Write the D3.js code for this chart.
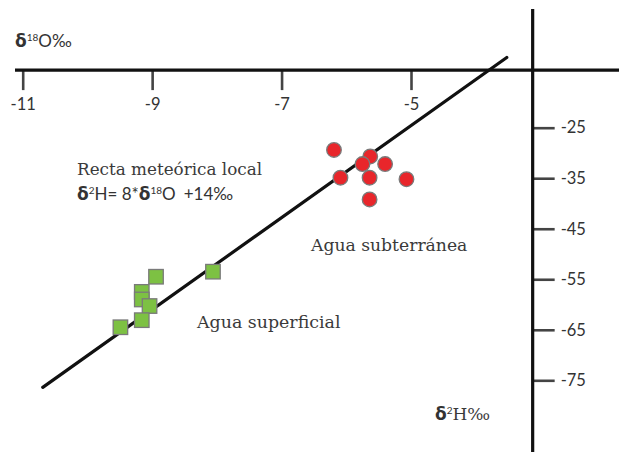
<!DOCTYPE html>
<html>
<head>
<meta charset="utf-8">
<script src="https://cdn.jsdelivr.net/npm/d3@7"></script>
<style>
  body { margin: 0; background: #fff; }
  svg { display: block; }
  .sans { font-family: Lato, "Noto Sans", sans-serif; fill: #333; }
  .serif { font-family: "DejaVu Serif", serif; fill: #3a3a3a; }
</style>
</head>
<body>
<svg id="chart" width="619" height="452"></svg>
<script>
// δ18O / δ2H values
var subterraneaO = [-6.19, -5.63, -5.75, -5.40, -6.09, -5.64, -5.07, -5.64];
var subterraneaH = [-29.4, -30.7, -32.2, -32.2, -34.9, -34.9, -35.2, -39.2];
var superficialO = [-8.06, -8.94, -9.16, -9.16, -9.04, -9.16, -9.49];
var superficialH = [-53.5, -54.5, -57.5, -59.0, -60.3, -63.1, -64.5];
// recta meteórica local (extremos del trazo)
var rectaO = [-10.69, -3.52];
var rectaH = [-76.4, -11.1];
var xTicks = [-11, -9, -7, -5];
var yTicks = [-25, -35, -45, -55, -65, -75];
// posición de los ejes (se cruzan fuera del origen, como en el esquema)
var xAxisAtH = -13.6;
var yAxisAtO = -3.12;

var svg = d3.select("#chart");

// escalas
var x = d3.scaleLinear().domain([-11, -5]).range([22.7, 411]);
var y = d3.scaleLinear().domain([-25, -75]).range([127.7, 380.3]);

// etiquetas con guion simple, como en el original
var fmt = (d) => "-" + Math.abs(d);

// eje horizontal (δ18O)
var xAxisY = y(xAxisAtH);
var gx = svg.append("g")
  .attr("transform", `translate(0,${xAxisY})`)
  .call(d3.axisBottom(x).tickValues(xTicks).tickSize(20).tickPadding(8).tickFormat(fmt));
gx.select(".domain").remove();
gx.selectAll(".tick line").attr("stroke", "#444").attr("stroke-width", 2.6);
gx.selectAll(".tick text").attr("class", "sans").style("font-size", "16.5px").attr("fill", "#333");
svg.append("line")
  .attr("x1", 15).attr("x2", 619)
  .attr("y1", xAxisY).attr("y2", xAxisY)
  .attr("stroke", "#111").attr("stroke-width", 3.2);

// eje vertical (δ2H)
var yAxisX = x(yAxisAtO);
var gy = svg.append("g")
  .attr("transform", `translate(${yAxisX},0)`)
  .call(d3.axisRight(y).tickValues(yTicks).tickSize(22).tickPadding(6).tickFormat(fmt));
gy.select(".domain").remove();
gy.selectAll(".tick line").attr("stroke", "#444").attr("stroke-width", 2.6);
gy.selectAll(".tick text").attr("class", "sans").style("font-size", "16.5px").attr("fill", "#333");
svg.append("line")
  .attr("x1", yAxisX).attr("x2", yAxisX)
  .attr("y1", 9).attr("y2", 452)
  .attr("stroke", "#111").attr("stroke-width", 3.2);

// recta meteórica
var recta = rectaO.map((o, i) => [o, rectaH[i]]);
svg.append("path")
  .datum(recta)
  .attr("fill", "none")
  .attr("stroke", "#111")
  .attr("stroke-width", 3.2)
  .attr("stroke-linecap", "round")
  .attr("d", d3.line().x((d) => x(d[0])).y((d) => y(d[1])));

// agua superficial (cuadrados)
var sup = superficialO.map((o, i) => ({ o: o, h: superficialH[i] }));
var side = 14.5;
svg.append("g")
  .selectAll("rect")
  .data(sup)
  .enter()
  .append("rect")
  .attr("x", (d) => x(d.o) - side / 2)
  .attr("y", (d) => y(d.h) - side / 2)
  .attr("width", side)
  .attr("height", side)
  .attr("fill", "#7dc143")
  .attr("stroke", "#7a7a7a")
  .attr("stroke-width", 1.3);

// agua subterránea (círculos)
var sub = subterraneaO.map((o, i) => ({ o: o, h: subterraneaH[i] }));
svg.append("g")
  .selectAll("circle")
  .data(sub)
  .enter()
  .append("circle")
  .attr("cx", (d) => x(d.o))
  .attr("cy", (d) => y(d.h))
  .attr("r", 7.3)
  .attr("fill", "#e8262b")
  .attr("stroke", "#7a7a7a")
  .attr("stroke-width", 1.3);

// textos
function addDelta(t, sup, rest, restClass) {
  t.append("tspan").attr("font-weight", "bold").attr("font-family", "\"DejaVu Sans\", sans-serif").text("δ");
  t.append("tspan").attr("font-size", "10px").attr("dy", -6).text(sup);
  var r = t.append("tspan").attr("dy", 6).text(rest);
  if (restClass) r.attr("class", restClass);
  return t;
}

var t1 = svg.append("text").attr("class", "sans").attr("x", 15).attr("y", 47).style("font-size", "17px");
addDelta(t1, "18", "O‰");

var t2 = svg.append("text").attr("class", "sans").attr("x", 435).attr("y", 420).style("font-size", "17px");
addDelta(t2, "2", "H‰", "serif");

svg.append("text").attr("class", "serif").attr("x", 77).attr("y", 175)
  .style("font-size", "16.8px").text("Recta meteórica local");

var t3 = svg.append("text").attr("class", "sans").attr("x", 77).attr("y", 200).style("font-size", "17px");
addDelta(t3, "2", "H= 8*");
t3.append("tspan").attr("font-weight", "bold").attr("font-family", "\"DejaVu Sans\", sans-serif").text("δ");
t3.append("tspan").attr("font-size", "10px").attr("dy", -6).text("18");
t3.append("tspan").attr("dy", 6).text("O");
t3.append("tspan").attr("dx", 8).text("+14‰");

svg.append("text").attr("class", "serif").attr("x", 311).attr("y", 251)
  .style("font-size", "17.2px").text("Agua subterránea");

svg.append("text").attr("class", "serif").attr("x", 197).attr("y", 328)
  .style("font-size", "17.4px").text("Agua superficial");
</script>
</body>
</html>
